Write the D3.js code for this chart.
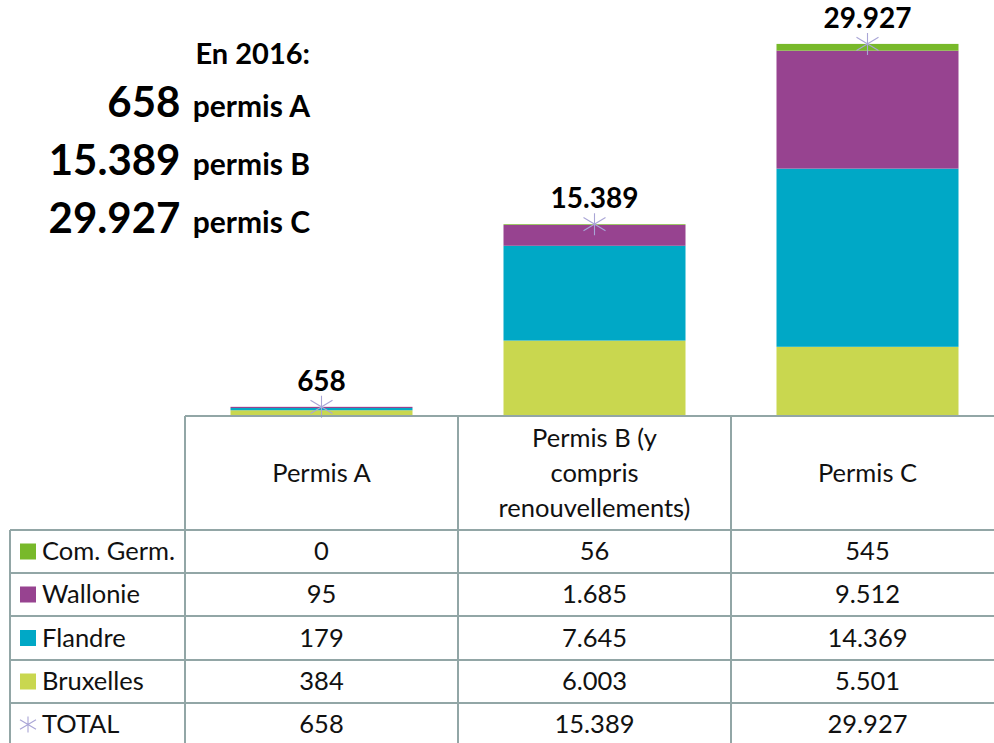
<!DOCTYPE html>
<html><head><meta charset="utf-8">
<script src="https://cdn.jsdelivr.net/npm/d3@7"></script>
<style>body{margin:0;background:#fff}svg{display:block}text{font-family:Lato,"Noto Sans",sans-serif}</style>
</head><body>
<script>
const categories = ["Permis A", "Permis B (y compris renouvellements)", "Permis C"];
const headerLines = [["Permis A"], ["Permis B (y", "compris", "renouvellements)"], ["Permis C"]];
const seriesNames = ["Bruxelles", "Flandre", "Wallonie", "Com. Germ."];
const bruxelles = [384, 6003, 5501];
const flandre = [179, 7645, 14369];
const wallonie = [95, 1685, 9512];
const comGerm = [0, 56, 545];
const totals = [658, 15389, 29927];
const colors = ["#c9d74f", "#00a8c6", "#974390", "#78b92a"];
const yTicks = [0, 30000];

const loc = d3.formatLocale({decimal: ",", thousands: ".", grouping: [3], currency: ["", "€"]});
const fmt = loc.format(",d");

const W = 994, H = 743;
const svg = d3.select("body").append("svg").attr("width", W).attr("height", H);

const x = d3.scaleBand().domain(categories).range([185, 1004]).paddingInner(1/3).paddingOuter(1/6);
const y = d3.scaleLinear().domain(d3.extent(yTicks)).range([415, 43]);

const seriesVals = [bruxelles, flandre, wallonie, comGerm];
const rows = categories.map((c, i) => {
  const r = {cat: c};
  seriesNames.forEach((s, j) => r[s] = seriesVals[j][i]);
  return r;
});
const stack = d3.stack().keys(seriesNames)(rows);

svg.append("g").selectAll("g").data(stack).join("g")
  .attr("fill", (d, i) => colors[i])
  .selectAll("rect").data(d => d).join("rect")
  .attr("x", d => x(d.data.cat))
  .attr("width", x.bandwidth())
  .attr("y", d => y(d[1]))
  .attr("height", d => Math.max(0, y(d[0]) - y(d[1])));

// total markers (asterisk)
function star(g, cx, cy, r) {
  const p = `M${cx - r},${cy - r * 0.6}L${cx + r},${cy + r * 0.6}M${cx - r},${cy + r * 0.6}L${cx + r},${cy - r * 0.6}M${cx},${cy - r}L${cx},${cy + r}`;
  g.append("path").attr("d", p).attr("stroke", "#a9a5d6").attr("stroke-width", 1.1).attr("fill", "none");
}
const mk = svg.append("g");
categories.forEach((c, i) => star(mk, x(c) + x.bandwidth() / 2, y(totals[i]), 11));

svg.append("g").selectAll("text").data(categories).join("text")
  .attr("x", c => x(c) + x.bandwidth() / 2)
  .attr("y", (c, i) => y(totals[i]) - 16)
  .attr("text-anchor", "middle").attr("font-weight", 700).attr("font-size", 28)
  .attr("fill", "#000")
  .text((c, i) => fmt(totals[i]));

// Left annotation
const ann = svg.append("g").attr("font-weight", 700).attr("fill", "#000");
ann.append("text").attr("x", 310).attr("y", 64).attr("text-anchor", "end").attr("font-size", 29).text("En 2016:");
const annLetters = ["A", "B", "C"];
const annY = [117, 175, 233];
totals.forEach((t, i) => {
  const tx = ann.append("text").attr("x", 310).attr("y", annY[i]).attr("text-anchor", "end");
  tx.append("tspan").attr("font-size", 42).text(fmt(t));
  tx.append("tspan").attr("font-size", 30).attr("dx", 5).text(" permis " + annLetters[i]);
});

// Data table
const gridColor = "#92a6a6";
const tbl = svg.append("g");
const colEdges = [185, 458, 731, 1004];
const rowEdges = [416, 530, 573, 616, 660, 703, 746];
const lines = tbl.append("g").attr("stroke", gridColor).attr("stroke-width", 2);
lines.append("line").attr("x1", 185).attr("x2", W).attr("y1", 416).attr("y2", 416);
rowEdges.slice(1, 6).forEach(yy => lines.append("line").attr("x1", 10).attr("x2", W).attr("y1", yy).attr("y2", yy));
colEdges.slice(0, 3).forEach(xx => lines.append("line").attr("x1", xx).attr("x2", xx).attr("y1", 416).attr("y2", H));
lines.append("line").attr("x1", 10).attr("x2", 10).attr("y1", 530).attr("y2", H);

const fs = 25.5;
categories.forEach((c, i) => {
  const cx = x(c) + x.bandwidth() / 2;
  const hl = headerLines[i];
  hl.forEach((ln, k) => {
    tbl.append("text").attr("x", cx).attr("y", 473 + (k - (hl.length - 1) / 2) * 35)
      .attr("dy", "0.35em").attr("text-anchor", "middle").attr("font-size", fs).attr("fill", "#111").text(ln);
  });
});

const tableRows = [
  {name: "Com. Germ.", vals: comGerm, color: colors[3]},
  {name: "Wallonie", vals: wallonie, color: colors[2]},
  {name: "Flandre", vals: flandre, color: colors[1]},
  {name: "Bruxelles", vals: bruxelles, color: colors[0]},
  {name: "TOTAL", vals: totals, color: null}
];
tableRows.forEach((r, ri) => {
  const cy = (rowEdges[ri + 1] + rowEdges[ri + 2]) / 2;
  if (r.color) {
    tbl.append("rect").attr("x", 20).attr("y", cy - 8).attr("width", 16).attr("height", 16).attr("fill", r.color);
  } else {
    star(tbl, 28, cy, 8);
  }
  tbl.append("text").attr("x", 42).attr("y", cy).attr("dy", "0.35em").attr("font-size", fs).attr("fill", "#111").text(r.name);
  categories.forEach((c, i) => {
    tbl.append("text").attr("x", x(c) + x.bandwidth() / 2).attr("y", cy).attr("dy", "0.35em")
      .attr("text-anchor", "middle").attr("font-size", fs).attr("fill", "#111").text(fmt(r.vals[i]));
  });
});
</script>
</body></html>
